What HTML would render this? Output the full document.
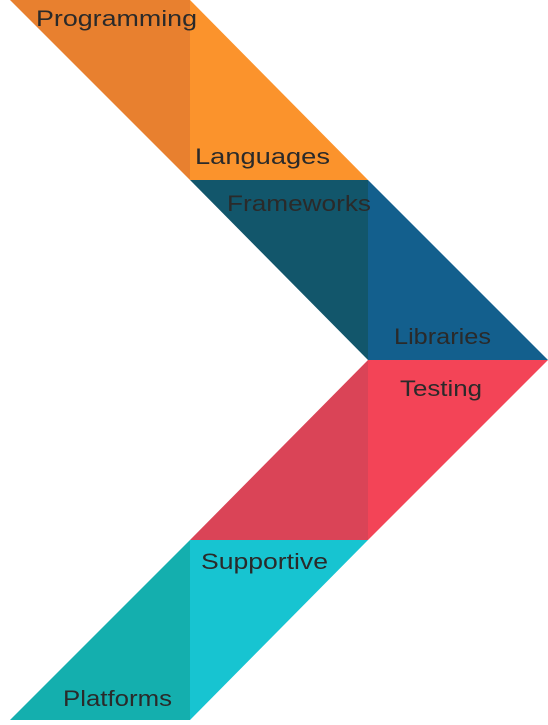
<!DOCTYPE html>
<html><head><meta charset="utf-8"><style>
html,body{margin:0;padding:0;background:#fff;}
svg{display:block;}
text{font-family:"Liberation Sans",sans-serif;font-size:22px;fill:#2a2a2a;}
</style></head><body>
<svg width="548" height="725" viewBox="0 0 548 725" xmlns="http://www.w3.org/2000/svg">
<polygon points="10,0 190,0 190,180" fill="#E8802F"/>
<polygon points="190,0 368,180 190,180" fill="#FB932C"/>
<polygon points="190,180 368,180 368,360" fill="#12566B"/>
<polygon points="368,180 548,360 368,360" fill="#135F8D"/>
<polygon points="368,360 368,540 190,540" fill="#DA4457"/>
<polygon points="368,360 548,360 368,540" fill="#F34457"/>
<polygon points="190,540 190,720 10,720" fill="#14AFAE"/>
<polygon points="190,540 368,540 190,720" fill="#17C4D1"/>
<text x="36" y="26" textLength="161" lengthAdjust="spacingAndGlyphs">Programming</text>
<text x="195" y="164" textLength="135" lengthAdjust="spacingAndGlyphs">Languages</text>
<text x="227" y="211" textLength="144" lengthAdjust="spacingAndGlyphs">Frameworks</text>
<text x="394" y="344" textLength="97" lengthAdjust="spacingAndGlyphs">Libraries</text>
<text x="400" y="396" textLength="82" lengthAdjust="spacingAndGlyphs">Testing</text>
<text x="201" y="569" textLength="127" lengthAdjust="spacingAndGlyphs">Supportive</text>
<text x="63" y="706" textLength="109" lengthAdjust="spacingAndGlyphs">Platforms</text>
</svg>
</body></html>
